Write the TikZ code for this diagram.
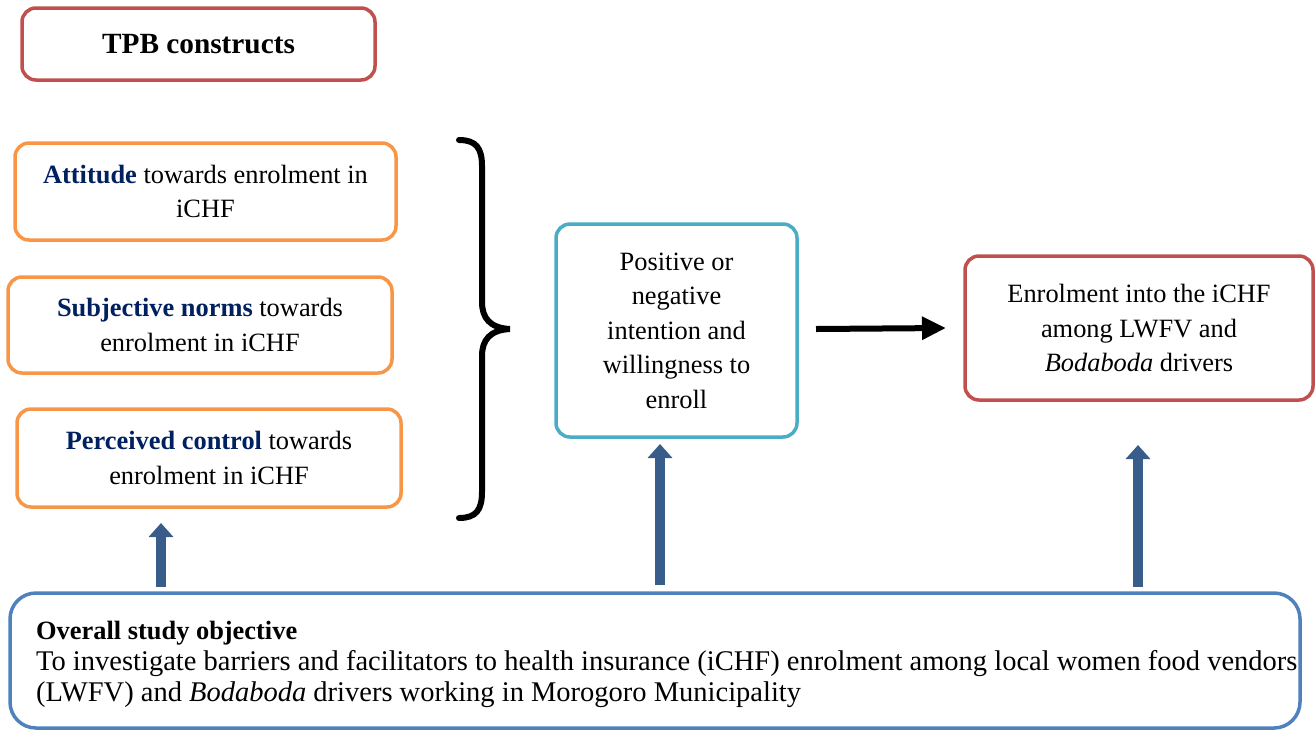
\documentclass[tikz,border=0pt]{standalone}
\usepackage{fontspec}
\setmainfont{Liberation Serif}
\usetikzlibrary{arrows.meta}
\definecolor{redb}{HTML}{C0504D}
\definecolor{orangeb}{HTML}{F79646}
\definecolor{cyanb}{HTML}{4BACC6}
\definecolor{blueb}{HTML}{4F81BD}
\definecolor{navyt}{HTML}{002060}
\definecolor{arrowb}{HTML}{385D8A}
\tikzset{
  box/.style={draw, line width=3.5pt, rounded corners=14pt, align=center, inner sep=0pt, font=\fontsize{26.4}{34.5}\selectfont},
  redbox/.style={box, draw=redb},
  orbox/.style={box, draw=orangeb},
  upar/.style={draw=arrowb, line width=10pt, -{Triangle[width=24pt,length=14pt]}},
}
\begin{document}
\begin{tikzpicture}[x=1pt,y=-1pt]
\useasboundingbox (0,0) rectangle (1316,732);
\node[redbox, minimum width=353pt, minimum height=72pt, font=\fontsize{29.3}{34.5}\selectfont] (tpb) at (198.5,44) {\textbf{TPB constructs}};
\node[orbox, minimum width=381pt, minimum height=97pt] (att) at (205.5,191.5) {\textbf{\color{navyt}Attitude} towards enrolment in\\iCHF};
\node[orbox, minimum width=384pt, minimum height=96pt] (sub) at (200,325) {\textbf{\color{navyt}Subjective norms} towards\\enrolment in iCHF};
\node[orbox, minimum width=384pt, minimum height=98pt] (per) at (209,458) {\textbf{\color{navyt}Perceived control} towards\\enrolment in iCHF};
\node[box, draw=cyanb, minimum width=241pt, minimum height=213pt] (int) at (676.5,330.5) {Positive or\\negative\\intention and\\willingness to\\enroll};
\node[redbox, minimum width=348pt, minimum height=144pt] (enr) at (1139,328) {Enrolment into the iCHF\\among LWFV and\\\textit{Bodaboda} drivers};
\node[box, draw=blueb, rounded corners=26pt, minimum width=1290pt, minimum height=135pt] (obj) at (655,660.5) {};
\node[anchor=north west, align=left, inner sep=0pt, font=\fontsize{28.5}{31}\selectfont] (objt) at (36,621) {{\fontsize{26.4}{31}\selectfont\textbf{Overall study objective}}\\To investigate barriers and facilitators to health insurance (iCHF) enrolment among local women food vendors\\(LWFV) and \textit{Bodaboda} drivers working in Morogoro Municipality};
% brace
\draw[line width=6pt, line cap=round] (459,140) .. controls (476,140) and (482,148) .. (482,166) -- (482,302) .. controls (482,318) and (490,328) .. (510,329) .. controls (490,330) and (482,340) .. (482,356) -- (482,492) .. controls (482,510) and (476,518) .. (459,518);
% black arrow
\coordinate (ba) at (816,329);
\draw[line width=6pt, -{Triangle[width=22pt,length=24pt]}] (ba) -- (enr.west -| 946,329);
% blue arrows
\coordinate (a1) at (161,587);
\coordinate (a1e) at (161,523);
\coordinate (a2) at (660,585);
\coordinate (a2e) at (660,444);
\coordinate (a3) at (1138,587);
\coordinate (a3e) at (1138,445);
\draw[upar] (a1) -- (a1e);
\draw[upar] (a2) -- (a2e);
\draw[upar] (a3) -- (a3e);
\end{tikzpicture}
\end{document}
